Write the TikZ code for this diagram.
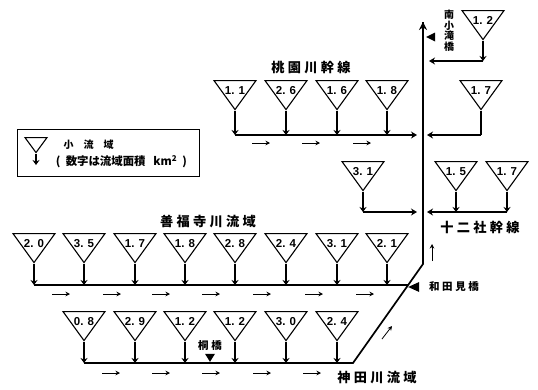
\documentclass[tikz,border=0pt]{standalone}
\usepackage{fontspec}
\setmainfont{Liberation Sans}
\newfontfamily\cjk[LetterSpace=25]{Noto Sans CJK JP}
\newfontfamily\cjktight{Noto Sans CJK JP}
\newcommand{\area}[1]{\smash{\raisebox{-8.5pt}{#1}}}
\usetikzlibrary{arrows.meta,shapes.geometric,backgrounds}

\begin{document}
\begin{tikzpicture}[
    x=1pt, y=-1pt, line width=0.9pt,
    background rectangle/.style={fill=white,draw=none},
    show background rectangle,
    basin/.style={draw,isosceles triangle,isosceles triangle stretches,shape border rotate=-90,
        minimum height=29pt,minimum width=42pt,inner sep=0pt,anchor=apex,line width=1.1pt,
        font=\fontsize{11.5}{12}\selectfont\bfseries},
    feed/.style={-{Stealth[length=5pt,width=7pt]},line width=1.1pt},
    trunk/.style={line width=1.3pt},
    main/.style={line width=1.7pt},
    branch/.style={-{Stealth[length=6pt,width=7pt]},line width=1.3pt},
    flow/.style={-{Stealth[length=4.5pt,width=4.5pt]},line width=0.8pt},
    gauge/.style={fill=black,draw=none,isosceles triangle,isosceles triangle stretches,inner sep=0pt},
    title/.style={font=\cjk\fontsize{13.2}{13}\selectfont\bfseries,inner sep=0pt},
    place/.style={font=\cjk\fontsize{10.5}{11}\selectfont\bfseries,inner sep=0pt}
]
\path[use as bounding box] (0,0) rectangle (538,389);

% legend
\node[draw,minimum width=182pt,minimum height=47pt,inner sep=0pt] (legend) at (108,152.5) {};
\node[basin,minimum height=15pt,minimum width=22pt] (legtri) at (36,154) {};
\coordinate (legend end) at (36,165);
\draw[feed] (legtri.apex) -- (legend end);
\node[font=\cjktight\fontsize{10}{10}\selectfont\bfseries,inner sep=0pt] (legtext) at (88.5,145) {小\quad 流\quad 域};
\node[font=\cjktight\fontsize{11.4}{11}\selectfont\bfseries,inner sep=0pt] (legnote) at (121.5,162)
    {(\ \ 数字は流域面積\ \ \ km\textsuperscript{2}\ \ )};

% upper branch
\node[title] (momo) at (311,68) {桃園川幹線};
\foreach \cx/\val [count=\i] in {235/1. 1,286/2. 6,337/1. 6,387/1. 8} {
    \node[basin] (a\i) at (\cx,111) {\area{\val}};
    \coordinate (aj\i) at (\cx,135);
    \draw[feed] (a\i.apex) -- (aj\i);
}
\coordinate (aend) at (417,135);
\draw[branch] (aj1) -- (aend);
\foreach \x in {252,302,353}
    \draw[flow] (\x,143) -- ++(18,0);

% trunk running north
\coordinate (top) at (423,22);
\coordinate (bend) at (423,264);
\coordinate (foot) at (353,363);
\coordinate (start) at (84,363);
\draw[main] (start) -- (foot) -- (bend) -- (top);
\draw[-{Stealth[length=8pt,width=8pt]},main] (bend) -- (top);
\node[gauge,minimum height=9pt,minimum width=9pt,anchor=apex,shape border rotate=180] (mnorth) at (425,37) {};

% right side
\node[basin] (b1) at (483,41) {\area{1. 2}};
\coordinate (bk1) at (483,61);
\coordinate (bend1) at (429,61);
\draw[feed] (b1.apex) -- (bk1);
\draw[branch] (bk1) -- (bend1);
\node[place,align=center,font=\cjktight\fontsize{10}{10.5}\selectfont\bfseries] (minami) at (449,31) {南\\小\\滝\\橋};

\node[basin] (b2) at (481,111) {\area{1. 7}};
\coordinate (bk2) at (481,135);
\coordinate (bend2) at (427,135);
\draw[line width=1.3pt] (b2.apex) -- (bk2);
\draw[branch] (bk2) -- (bend2);

\node[basin] (c1) at (363,192) {\area{3. 1}};
\coordinate (ck1) at (363,212);
\coordinate (cend1) at (417,212);
\draw[feed] (c1.apex) -- (ck1);
\draw[branch] (ck1) -- (cend1);

\node[basin] (c2) at (456,192) {\area{1. 5}};
\node[basin] (c3) at (507,192) {\area{1. 7}};
\coordinate (ck2) at (456,212);
\coordinate (ck3) at (507,212);
\coordinate (cend2) at (427,212);
\draw[feed] (c2.apex) -- (ck2);
\draw[feed] (c3.apex) -- (ck3);
\draw[branch] (ck3) -- (cend2);
\node[title] (juni) at (480,227) {十二社幹線};
\draw[flow] (432,261) -- (432,244);

% middle row
\node[title] (zen) at (208,222) {善福寺川流域};
\foreach \cx/\val [count=\i] in {34/2. 0,84/3. 5,135/1. 7,185/1. 8,235/2. 8,286/2. 4,337/3. 1,387/2. 1} {
    \node[basin] (d\i) at (\cx,264) {\area{\val}};
    \coordinate (dj\i) at (\cx,285);
    \draw[feed] (d\i.apex) -- (dj\i);
}
\coordinate (djoin) at (408,285);
\draw[trunk] (dj1) -- (djoin);
\foreach \x in {52,103,152,202,253,305,356}
    \draw[flow] (\x,294) -- ++(18,0);
\node[gauge,minimum height=11pt,minimum width=10pt,anchor=apex,shape border rotate=180] (mwada) at (407,287) {};
\node[place] (wada) at (454,287) {和田見橋};

% lower row
\foreach \cx/\val [count=\i] in {84/0. 8,135/2. 9,185/1. 2,235/1. 2,286/3. 0,337/2. 4} {
    \node[basin] (e\i) at (\cx,342) {\area{\val}};
    \coordinate (ej\i) at (\cx,363);
    \draw[feed] (e\i.apex) -- (ej\i);
}
\foreach \x in {102,152,202,253,303}
    \draw[flow] (\x,373) -- ++(18,0);
\draw[flow] (382,339) -- (392,326);
\node[gauge,minimum height=8pt,minimum width=10pt,anchor=apex,shape border rotate=-90] (mkiri) at (210,363) {};
\node[place] (kiri) at (210,346) {桐橋};
\node[title] (kanda) at (377,378) {神田川流域};
\end{tikzpicture}
\end{document}
